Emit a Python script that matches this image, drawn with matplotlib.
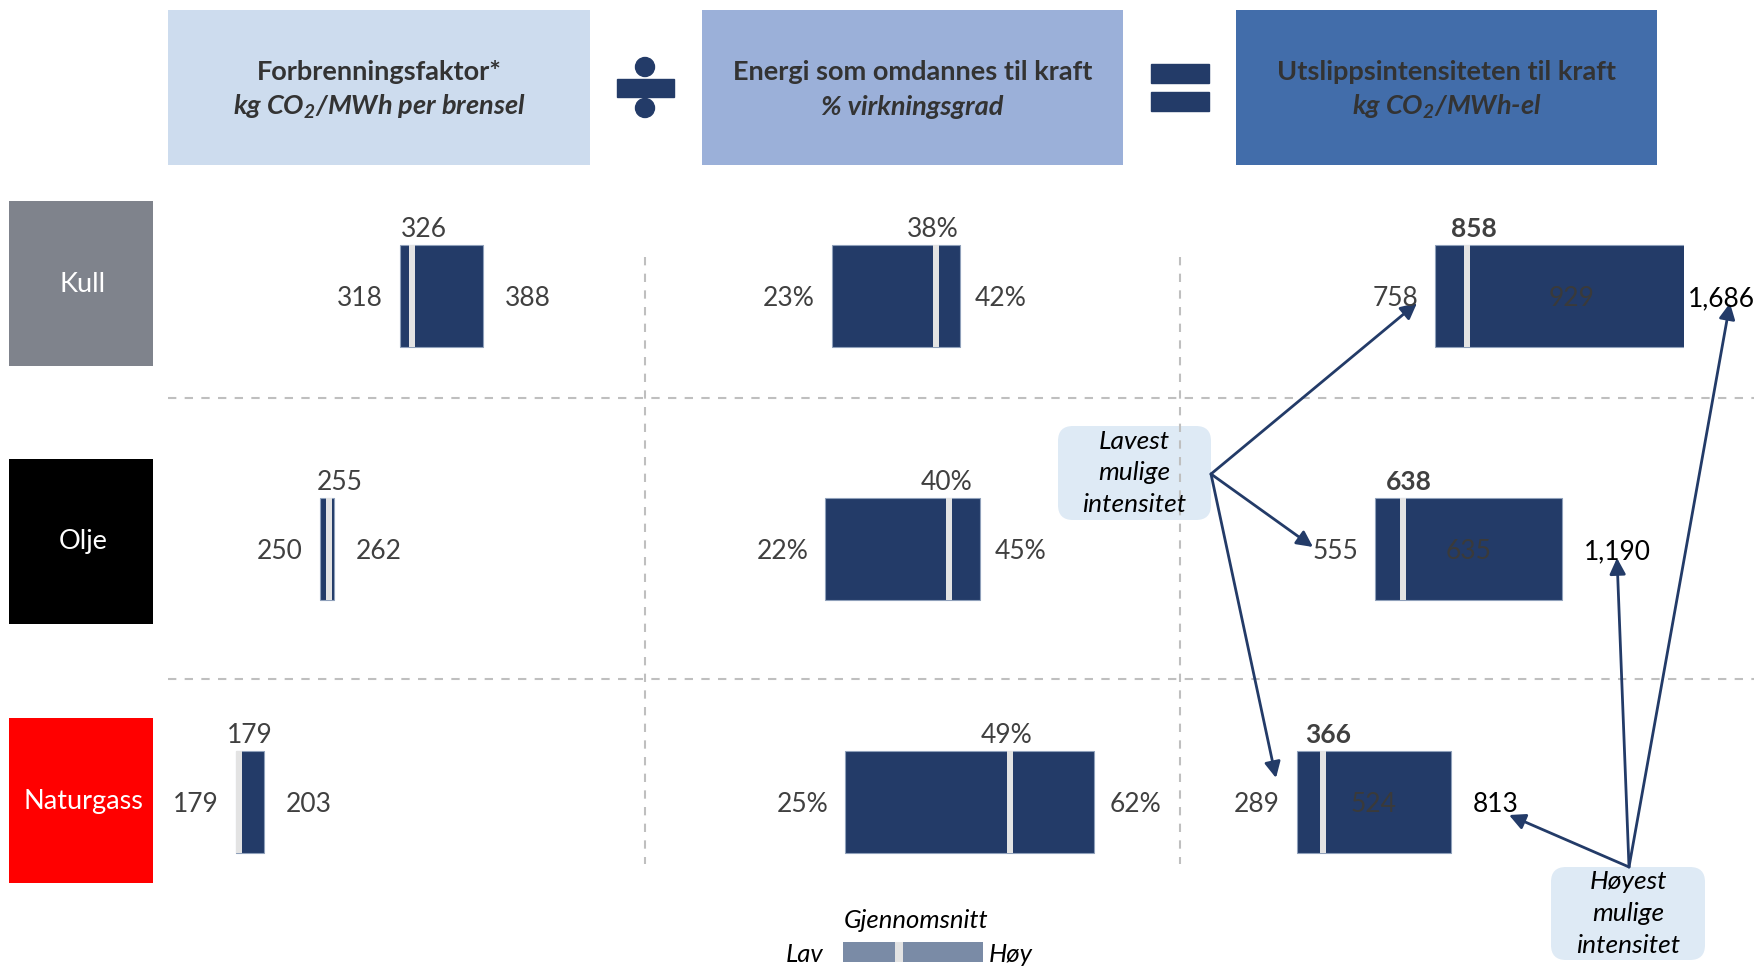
import matplotlib.pyplot as plt
from matplotlib.patches import Rectangle, Ellipse, FancyBboxPatch

plt.rcParams['font.family'] = ['Lato', 'DejaVu Sans']
plt.rcParams['mathtext.default'] = 'regular'

# data
brensel = ['Kull', 'Olje', 'Naturgass']
brensel_farge = ['#7F838C', '#000000', '#FF0000']

faktor_lav = [318, 250, 179]
faktor_snitt = [326, 255, 179]
faktor_hoy = [388, 262, 203]

virk_lav = [23, 22, 25]
virk_snitt = [38, 40, 49]
virk_hoy = [42, 45, 62]

utslipp_lav = [758, 555, 289]
utslipp_snitt = [858, 638, 366]
utslipp_hoy = [1686, 1190, 813]
utslipp_spenn = [929, 635, 524]

overskrifter = [
    ('Forbrenningsfaktor*', r'kg CO$_2$/MWh per brensel'),
    ('Energi som omdannes til kraft', '% virkningsgrad'),
    ('Utslippsintensiteten til kraft', r'kg CO$_2$/MWh-el'),
]

navy = '#233B68'
snitt_grey = '#E3E3E3'
txt = '#404040'
W, H = 1754, 967

fig = plt.figure(figsize=(W / 100, H / 100), dpi=100)
bg = fig.add_axes([0, 0, 1, 1])
bg.set_xlim(0, W)
bg.set_ylim(H, 0)
bg.axis('off')

# header boxes
box_x = [(168, 590), (702, 1123), (1236, 1657)]
box_col = ['#CDDCEE', '#9BB0D9', '#426DAA']
for (x0, x1), c, (l1, l2) in zip(box_x, box_col, overskrifter):
    bg.add_patch(Rectangle((x0, 10), x1 - x0, 155, color=c, lw=0))
    xc = (x0 + x1) / 2
    bg.text(xc, 72, l1, ha='center', va='center', fontsize=19.5,
            fontweight='bold', color='#333333')
    bg.text(xc, 107, l2, ha='center', va='center', fontsize=19.5,
            fontweight='bold', style='italic', color='#333333')

# divide and equals signs
bg.add_patch(Ellipse((645, 67), 19, 19, color=navy))
bg.add_patch(Rectangle((617, 79), 57, 18, color=navy))
bg.add_patch(Ellipse((645, 108), 19, 19, color=navy))
bg.add_patch(Rectangle((1151, 64), 58, 19, color=navy))
bg.add_patch(Rectangle((1151, 92), 58, 19, color=navy))

# row labels
rad_y = [201, 459, 718]
for navn, c, y0 in zip(brensel, brensel_farge, rad_y):
    bg.add_patch(Rectangle((9, y0), 144, 165, color=c, lw=0))
    bg.text(83, y0 + 83, navn, ha='center', va='center', fontsize=19.5,
            color='white')

# grid separators
for y in [398, 679]:
    bg.plot([168, W], [y, y], color='#BFBFBF', lw=1.5, ls=(0, (4, 4)))
for x in [645, 1180]:
    bg.plot([x, x], [257, 864], color='#BFBFBF', lw=1.5, ls=(0, (4, 4)))


def panel(left, right, xlim, lav, snitt, hoy, fmt, gap_r, top_dx,
          bold_top=False, hoy_col=txt, spenn=None):
    top, bottom = 190, 880
    ax = fig.add_axes([left / W, 1 - bottom / H, (right - left) / W,
                       (bottom - top) / H])
    ax.set_xlim(*xlim)
    ax.set_ylim(2.308, -0.419)
    ax.axis('off')
    ax.patch.set_alpha(0)
    px_per_unit = (right - left) / (xlim[1] - xlim[0])
    gap = 6 / px_per_unit
    h = 0.4
    for i in range(len(lav)):
        width = spenn[i] if spenn else hoy[i] - lav[i]
        ax.barh(i, width, left=lav[i], height=h, color=navy,
                edgecolor='#8FA0BA', linewidth=0.8)
        ax.barh(i, gap, left=snitt[i], height=h, color=snitt_grey, lw=0)
        ax.annotate(fmt(lav[i]), xy=(lav[i], i), xytext=(-17 * 0.72, -2),
                    textcoords='offset points', ha='right', va='center',
                    fontsize=19, color=txt)
        end = min(hoy[i], xlim[1])
        off = gap_r if hoy[i] <= xlim[1] else 4
        ax.annotate(fmt(hoy[i]), xy=(end, i), xytext=(off * 0.72, -2),
                    textcoords='offset points', ha='left', va='center',
                    fontsize=19, color=hoy_col, annotation_clip=False)
        ax.annotate(fmt(snitt[i]), xy=(snitt[i], i - h / 2),
                    xytext=(top_dx * 0.72, 6), textcoords='offset points',
                    ha='center', va='baseline', fontsize=19, color=txt,
                    fontweight='bold' if bold_top else 'normal')
        if spenn:
            ax.text(lav[i] + spenn[i] / 2, i + 0.01, fmt(spenn[i]),
                    ha='center', va='center', fontsize=19, color='#3A3A3A')
    return ax


panel(168, 645, (121.6, 525.5), faktor_lav, faktor_snitt, faktor_hoy,
      lambda v: f'{v}', 22, 14)
panel(645, 1180, (-4.75, 74.7), virk_lav, virk_snitt, virk_hoy,
      lambda v: f'{v}%', 15, 0)
panel(1180, 1684, (-108, 1604), utslipp_lav, utslipp_snitt, utslipp_hoy,
      lambda v: f'{v:,}', 22, 9, bold_top=True, hoy_col='black',
      spenn=utslipp_spenn)

# callouts
for (x0, y0, x1, y1), lines in [((1058, 426, 1211, 520), 'Lavest\nmulige\nintensitet'),
                                ((1551, 867, 1705, 960), 'Høyest\nmulige\nintensitet')]:
    bg.add_patch(FancyBboxPatch((x0, y0), x1 - x0, y1 - y0,
                                boxstyle='round,pad=0,rounding_size=15',
                                color='#DEEAF5', lw=0))
    bg.text((x0 + x1) / 2, (y0 + y1) / 2, lines, ha='center', va='center',
            fontsize=19, style='italic', color='black', linespacing=1.45)

arrow = dict(arrowstyle='-|>', color=navy, lw=2, mutation_scale=24,
             shrinkA=0, shrinkB=0)
for tgt in [(1417, 303), (1313, 547), (1276, 778)]:
    bg.annotate('', xy=tgt, xytext=(1211, 474), arrowprops=arrow)
for tgt in [(1730, 303), (1617, 558), (1509, 815)]:
    bg.annotate('', xy=tgt, xytext=(1629, 867), arrowprops=arrow)

# key
bg.add_patch(Rectangle((843, 942), 140, 20, color='#7A8BA6', lw=0))
bg.add_patch(Rectangle((895, 942), 8, 20, color=snitt_grey, lw=0))
bg.text(916, 920, 'Gjennomsnitt', ha='center', va='center', fontsize=18.5,
        style='italic', color='black')
bg.text(823, 955, 'Lav', ha='right', va='center', fontsize=18.5,
        style='italic', color='black')
bg.text(989, 955, 'Høy', ha='left', va='center', fontsize=18.5,
        style='italic', color='black')

fig.savefig('out.png', dpi=100)
